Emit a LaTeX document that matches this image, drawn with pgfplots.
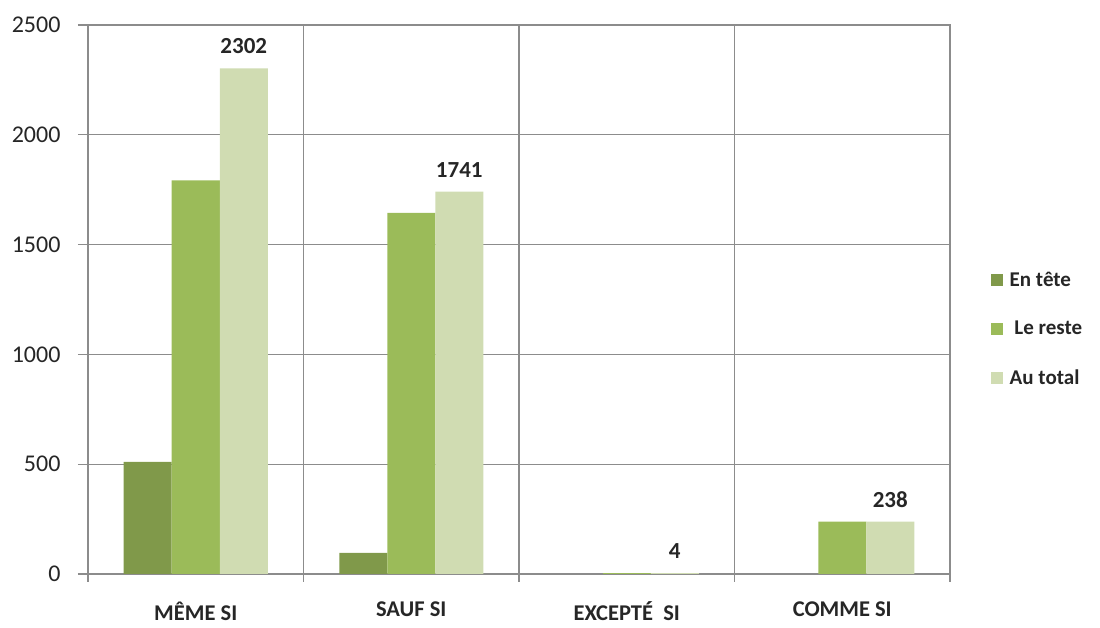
\documentclass[border=0pt]{standalone}
\usepackage{fontspec}
\setmainfont{Carlito}
\usepackage{pgfplots}
\pgfplotsset{compat=1.18}
\definecolor{c1}{HTML}{80994A}
\definecolor{c2}{HTML}{9BBB59}
\definecolor{c3}{HTML}{D0DCB2}
\definecolor{gridc}{HTML}{8C8C8C}
\begin{document}
\begin{tikzpicture}
\useasboundingbox (-88pt,-54pt) rectangle (1012pt,574pt);
\begin{axis}[
  at={(0pt,0pt)}, anchor=south west,
  scale only axis, width=862pt, height=549pt,
  ybar=0pt, bar width=48pt,
  xmin=-0.5, xmax=3.5, ymin=0, ymax=2500,
  xtick={0,1,2,3},
  xticklabels={M\^EME SI, SAUF SI, EXCEPT\'E\ \ SI, COMME SI},
  minor xtick={-0.5,0.5,1.5,2.5,3.5},
  ytick={0,500,1000,1500,2000,2500},
  xminorgrids=true, ymajorgrids=true,
  grid style={gridc, line width=1.3pt},
  axis line style={gridc, line width=1.3pt},
  major x tick style={draw=none},
  minor x tick style={gridc, line width=1.3pt},
  y tick style={gridc, line width=1.3pt},
  tick align=outside,
  major tick length=10pt, minor tick length=8pt,
  xtick pos=bottom, ytick pos=left,
  /pgf/number format/assume math mode=true,
  /pgf/number format/1000 sep={},
  yticklabel style={font=\fontsize{24}{24}\selectfont, text=black!85, xshift=-14pt},
  xticklabel style={font=\bfseries\fontsize{22.5}{22.5}\selectfont, text=black!85, yshift=-14pt},
  legend style={at={(1.047,0.446)}, anchor=west, draw=none, fill=none,
    font=\bfseries\fontsize{21}{21}\selectfont, text=black!85,
    row sep=29pt, column sep=5pt, inner sep=0pt},
  legend cell align=left,
  legend image code/.code={\path[#1, draw=none] (0pt,-6pt) rectangle (12pt,6pt);},
]
\addplot[fill=c1, draw=none] coordinates {(0,510) (1,96)};
\addplot[fill=c2, draw=none] coordinates {(0,1792) (1,1645) (2,4) (3,238)};
\addplot[fill=c3, draw=none,
  nodes near coords,
  every node near coord/.append style={font=\bfseries\fontsize{23}{23}\selectfont, text=black!85, yshift=11pt}]
  coordinates {(0,2302) (1,1741) (2,4) (3,238)};
\legend{En t\^ete, {\ Le reste}, Au total}
\end{axis}
\end{tikzpicture}
\end{document}
